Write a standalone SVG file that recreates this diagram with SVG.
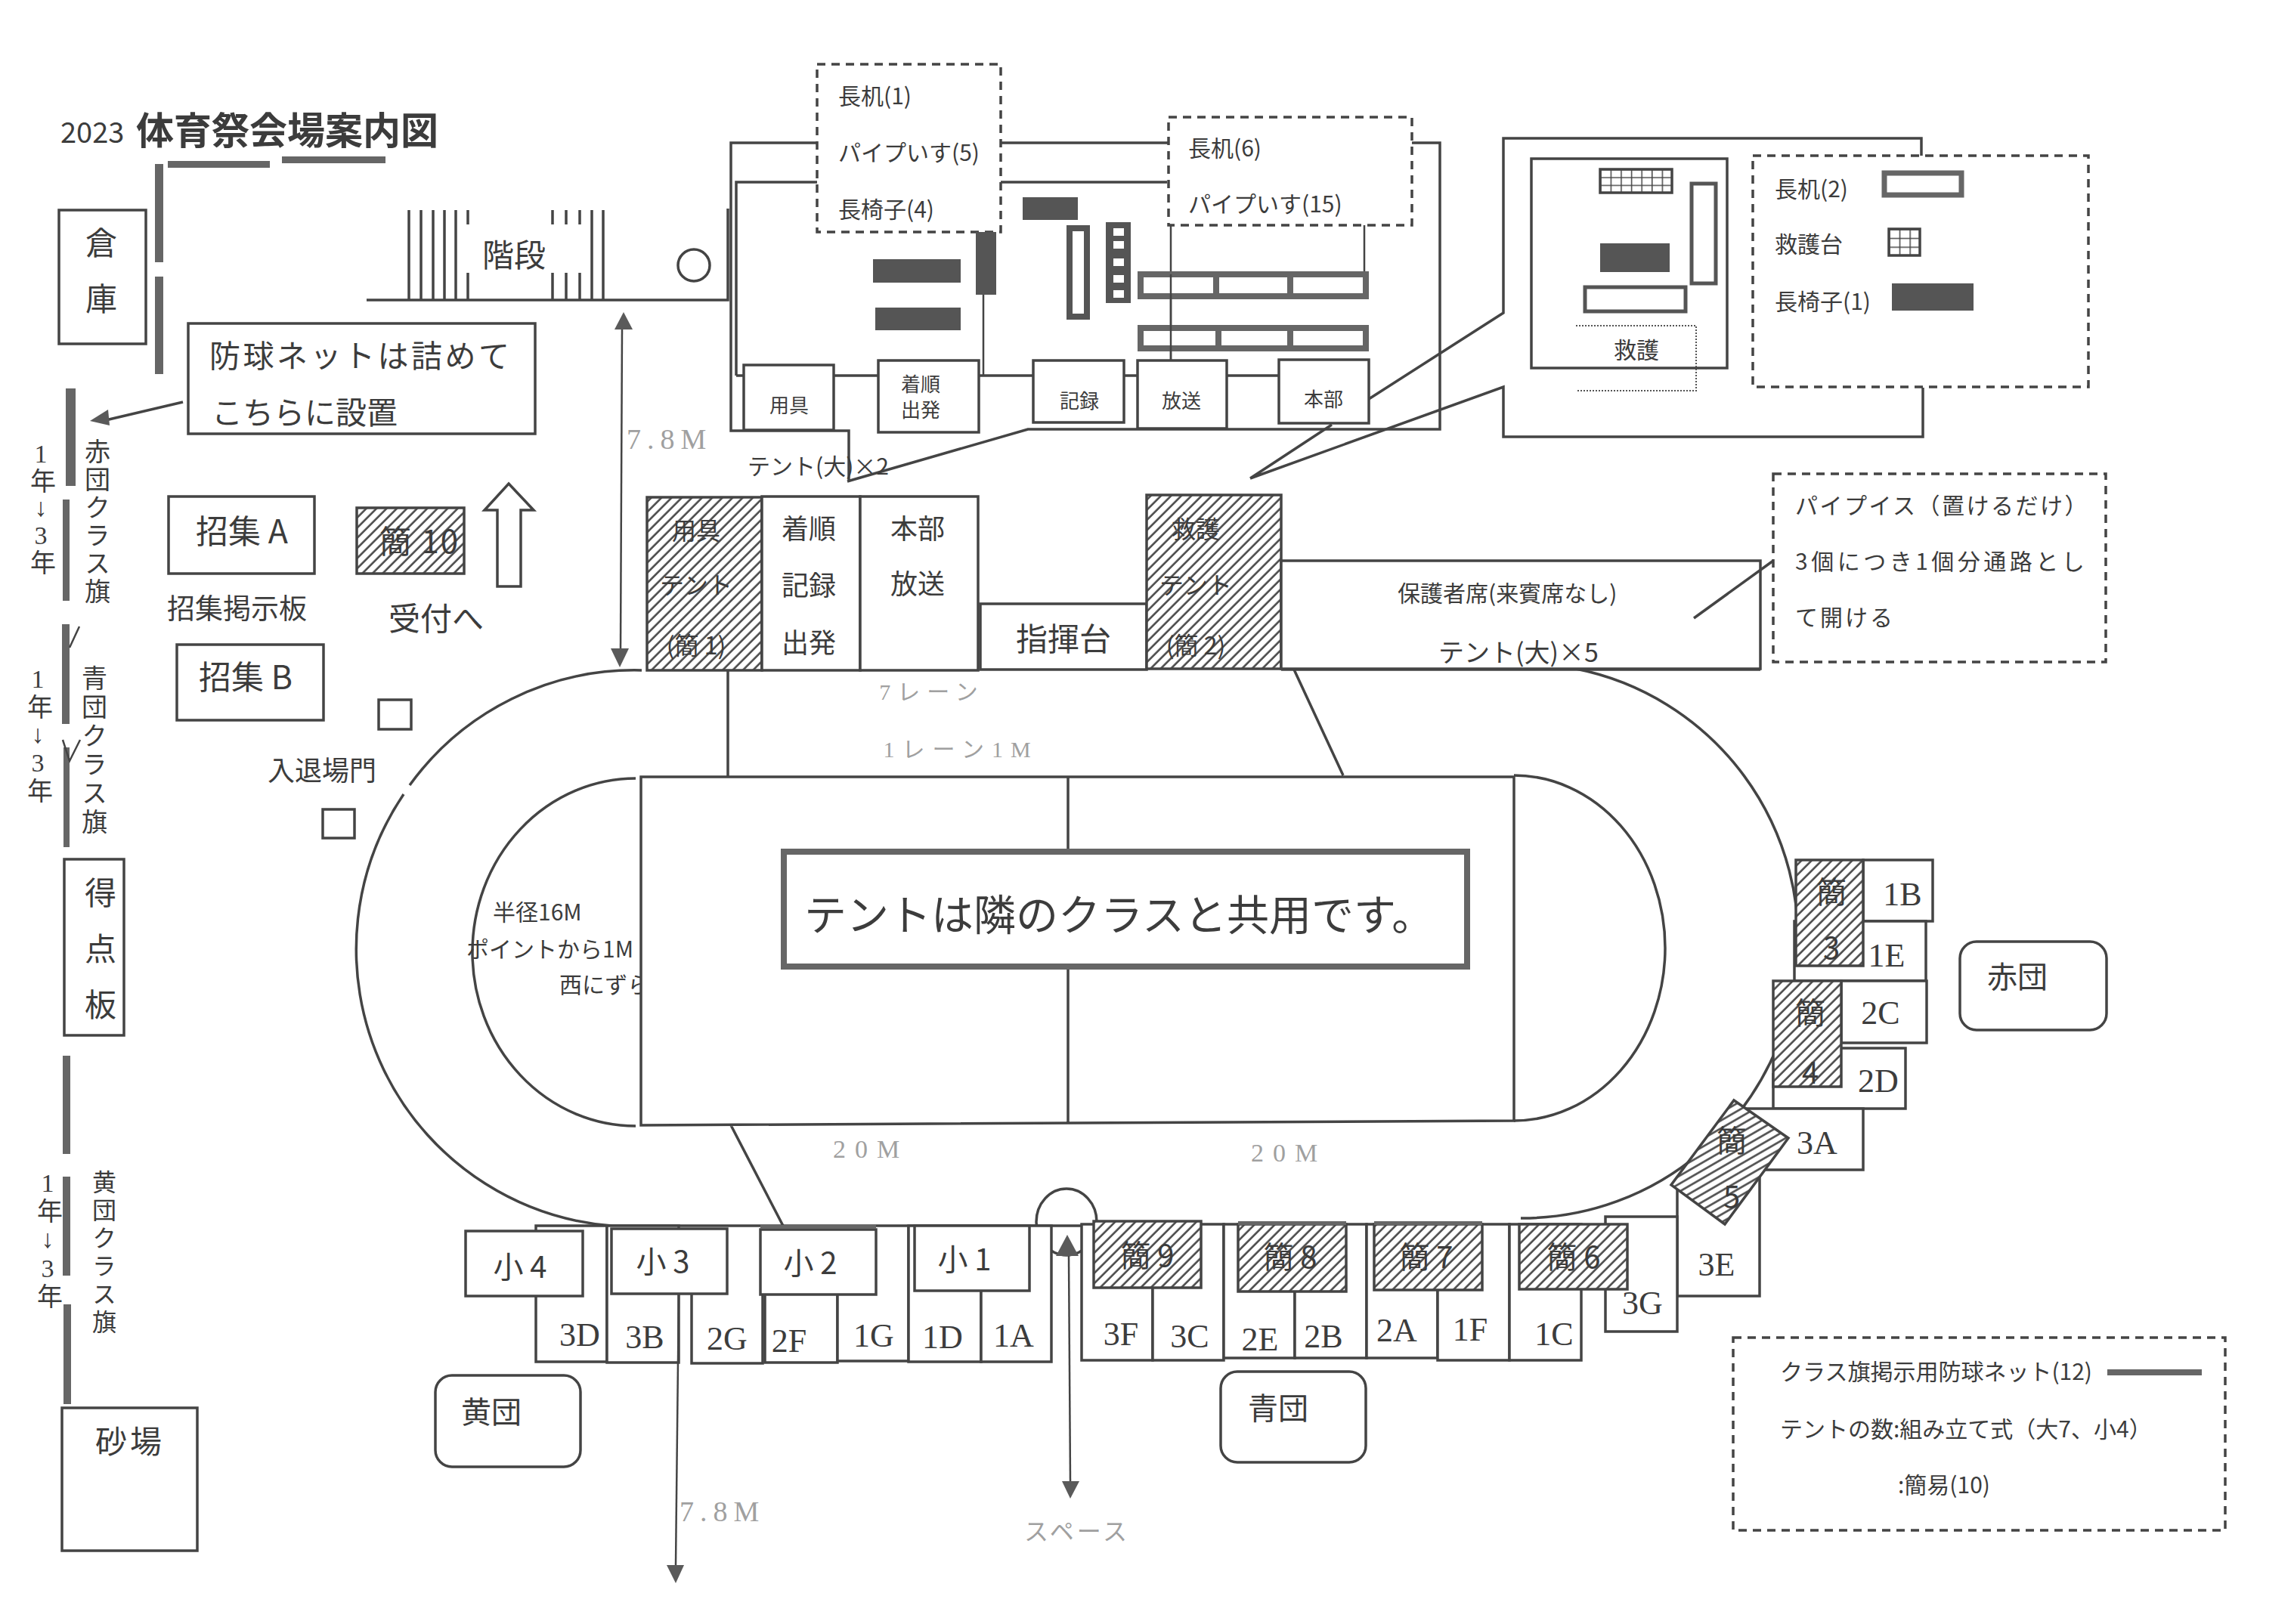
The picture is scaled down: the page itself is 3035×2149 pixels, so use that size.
<svg xmlns="http://www.w3.org/2000/svg" width="3035" height="2149" viewBox="0 0 3035 2149">
<style>
text{font-family:"Noto Sans CJK JP","Noto Sans",sans-serif;fill:#3c3c3c;dominant-baseline:central}
text:not(.lat):not(.v):not(.faint){transform:translateY(-3px)}
.m{text-anchor:middle}
.lat{font-family:"Liberation Serif","Noto Sans CJK JP",serif;fill:#3c3c3c}
.v{writing-mode:vertical-rl;text-orientation:upright}
.faint{font-family:"Liberation Serif","Noto Sans CJK JP",serif;fill:#a0a0a0}
.b{fill:#fff;stroke:#444;stroke-width:3.5}
.n{fill:none;stroke:#444;stroke-width:3.5}
.t{fill:none;stroke:#444;stroke-width:2.5}
.dash{fill:#fff;stroke:#444;stroke-width:3.5;stroke-dasharray:11 8}
.bar{fill:#666}
.dark{fill:#555}
.desk{fill:#fff;stroke:#666;stroke-width:8}
.h{fill:url(#hatch);stroke:#444;stroke-width:3.5}
.r{fill:#fff;stroke:#444;stroke-width:3.5}
.arrow{fill:#5a5a5a}
</style>
<defs>
<pattern id="hatch" width="9.5" height="9.5" patternUnits="userSpaceOnUse" patternTransform="rotate(45)"><rect width="9.5" height="9.5" fill="#fff"/><line x1="1.5" y1="0" x2="1.5" y2="9.5" stroke="#444" stroke-width="2.5"/></pattern>
<pattern id="hatch5" width="9" height="9" patternUnits="userSpaceOnUse" patternTransform="rotate(60)"><rect width="9" height="9" fill="#fff"/><line x1="1.5" y1="0" x2="1.5" y2="9" stroke="#444" stroke-width="2.5"/></pattern>
<pattern id="grid1" x="2117" y="224" width="13.6" height="10.3" patternUnits="userSpaceOnUse"><rect width="13.6" height="10.3" fill="#fff"/><path d="M0,0H13.6M0,0V10.3" stroke="#444" stroke-width="3" fill="none"/></pattern>
<pattern id="grid2" x="2499" y="303" width="13.7" height="11.7" patternUnits="userSpaceOnUse"><rect width="13.7" height="11.7" fill="#fff"/><path d="M0,0H13.7M0,0V11.7" stroke="#444" stroke-width="3" fill="none"/></pattern>
</defs>
<rect width="3035" height="2149" fill="#fff"/>

<g id="title"><text x="80" y="175" font-size="38" font-family="Liberation Sans">2023</text><text x="180" y="172" font-size="50" font-weight="700">体育祭会場案内図</text></g>

<g id="track">
<path class="n" d="M849,887A367,367 0 0 0 542,1039M534,1051A367,367 0 0 0 809,1622"/>
<path class="n" d="M2085,885A365,367 0 0 1 2012,1612"/>
<path class="n" d="M1695,886H2329M809,1622H2125"/>
<path class="n" d="M841,1030A216,230 0 0 0 841,1490"/>
<path class="n" d="M2003,1026A200,228.5 0 0 1 2003,1483"/>
<g><text x="652" y="1208" font-size="30">半径16M</text><text x="617" y="1257" font-size="30">ポイントから1M</text><text x="740" y="1304" font-size="30">西にずらす</text></g>
<rect x="848" y="1028" width="1155" height="455" fill="#fff"/>
<path class="n" d="M848,1028H2003V1483L848,1489ZM1413,1028V1487M963,887V1027M1712,886L1777,1026M967,1489L1036,1622"/>
<text class="faint" x="1233" y="915" font-size="30" text-anchor="middle" letter-spacing="9">7レーン</text>
<text class="faint" x="1271" y="991" font-size="30" text-anchor="middle" letter-spacing="10">1レーン1M</text>
<text class="faint" x="1152" y="1520" font-size="34" text-anchor="middle" letter-spacing="12">20M</text>
<text class="faint" x="1705" y="1525" font-size="34" text-anchor="middle" letter-spacing="12">20M</text>
</g>

<g id="gate-arc"><ellipse class="n" cx="1411" cy="1617" rx="40" ry="44"/></g>

<g id="notice"><rect x="1037" y="1127" width="904" height="152" fill="#fff" stroke="#666" stroke-width="8"/><text x="1064" y="1209" font-size="56">テントは隣のクラスと共用です。</text></g>

<g id="nets">
<rect class="bar" x="222" y="213" width="135" height="9"/><rect class="bar" x="373" y="207" width="137" height="9"/>
<rect class="bar" x="205" y="217" width="11" height="130"/><rect class="bar" x="205" y="366" width="11" height="129"/>
<rect class="bar" x="87" y="514" width="13" height="129"/><rect class="bar" x="83" y="661" width="9" height="134"/>
<rect class="bar" x="82" y="826" width="10" height="132"/><rect class="bar" x="84" y="989" width="8" height="132"/>
<rect class="bar" x="83" y="1397" width="10" height="130"/><rect class="bar" x="83" y="1557" width="10" height="131"/><rect class="bar" x="84" y="1726" width="10" height="132"/>
<path class="t" d="M105,829L92,857M83,979L92,1007L106,979"/>
<text class="v lat" x="54" y="582" font-size="34">1年↓3年</text>
<text class="v" x="129" y="580" font-size="34" letter-spacing="3">赤団クラス旗</text>
<text class="v lat" x="50" y="880" font-size="34" letter-spacing="1">1年↓3年</text>
<text class="v" x="125" y="880" font-size="34" letter-spacing="4">青団クラス旗</text>
<text class="v lat" x="63" y="1547" font-size="34" letter-spacing="1.5">1年↓3年</text>
<text class="v" x="138" y="1548" font-size="32" letter-spacing="5">黄団クラス旗</text>
</g>

<g id="souko"><rect class="b" x="78" y="278" width="115" height="177"/><text class="v" x="134" y="300" font-size="42" letter-spacing="32">倉庫</text></g>
<g id="stairs"><path class="n" d="M485,397H963V276M541,278V397M557,278V397M573,278V397M588,278V397M603,278V397M619,278V297M619,361V397M731,278V297M731,361V397M749,278V297M749,361V397M767,278V297M767,361V397M783,278V397M798,278V397"/><text class="m" x="680" y="337" font-size="42">階段</text><circle class="n" cx="918" cy="351" r="21"/></g>
<g id="net-note"><rect class="b" x="249" y="428" width="459" height="146"/><text x="277" y="471" font-size="41" letter-spacing="3.5">防球ネットは詰めて</text><text x="280" y="546" font-size="41">こちらに設置</text></g>
<g id="shoshu-a"><rect class="b" x="223" y="657" width="193" height="102"/><text class="m" x="320" y="703" font-size="43">招集 A</text></g>
<g id="kan10"><rect class="h" x="472" y="672" width="142" height="87"/><text class="m" x="555" y="716" font-size="42" letter-spacing="2">簡 10</text></g>
<g id="up-arrow"><polygon class="b" points="673,640 706,675 689,675 689,776 658,776 658,675 641,675"/><text class="m" x="577" y="818" font-size="42">受付へ</text></g>
<g id="shoshu-board"><text x="221" y="806" font-size="37">招集掲示板</text></g>
<g id="shoshu-b"><rect class="b" x="234" y="853" width="194" height="100"/><text class="m" x="325" y="896" font-size="43">招集 B</text></g>
<g id="gate"><rect class="b" x="501" y="926" width="43" height="39"/><rect class="b" x="427" y="1071" width="42" height="38"/><text x="354" y="1020" font-size="36">入退場門</text></g>
<g id="score"><rect class="b" x="85" y="1137" width="79" height="233"/><text class="v" x="133" y="1160" font-size="42" letter-spacing="32">得点板</text></g>
<g id="sand"><rect class="b" x="82" y="1863" width="179" height="189"/><text class="m" x="172" y="1907" font-size="42" letter-spacing="4">砂場</text></g>

<g id="building">
<path class="n" d="M1123,637V570H967V189H1905V568H1360L1121,637"/>
<path class="n" d="M974,497V241H1544M974,497H1692"/>
<path class="t" d="M1549,298V477M1805,298V396M1301,390V497"/>
<rect class="dark" x="1353" y="261" width="73" height="30"/>
<rect class="dark" x="1155" y="343" width="116" height="31"/>
<rect class="dark" x="1158" y="407" width="113" height="30"/>
<rect x="1415" y="302" width="23" height="117" fill="#fff" stroke="#555" stroke-width="8"/>
<rect class="dark" x="1463" y="294" width="33" height="107"/>
<g fill="#fff"><rect x="1473" y="302" width="14" height="10"/><rect x="1473" y="319" width="14" height="10"/><rect x="1473" y="342" width="14" height="10"/><rect x="1473" y="364" width="14" height="10"/><rect x="1473" y="384" width="14" height="10"/></g>
<path class="desk" d="M1509,363H1807V392H1509ZM1609,363V392M1707,363V392M1509,434H1807V461H1509ZM1612,434V461M1707,434V461"/>
<path class="t" d="M1549,363V477"/>
</g>
<g id="tent-yougu"><rect class="r" x="984" y="483" width="119" height="86"/><text class="m" x="1044" y="537" font-size="26">用具</text></g>
<g id="tent-chaku"><rect class="r" x="1162" y="477" width="133" height="95"/><text class="m" x="1218" y="509" font-size="26">着順</text><text class="m" x="1218" y="543" font-size="26">出発</text></g>
<g id="tent-kiroku"><rect class="r" x="1367" y="477" width="120" height="82"/><text class="m" x="1428" y="531" font-size="26">記録</text></g>
<g id="tent-housou"><rect class="r" x="1505" y="477" width="118" height="90"/><text class="m" x="1563" y="531" font-size="26">放送</text></g>
<g id="tent-honbu"><rect class="r" x="1692" y="476" width="119" height="84"/><text class="m" x="1751" y="529" font-size="26">本部</text></g>
<g id="tent-label"><text x="989" y="618" font-size="30">テント(大)×2</text></g>

<g id="legend-1"><rect class="dash" x="1081" y="85" width="243" height="222"/><text x="1109" y="128" font-size="30">長机(1)</text><text x="1109" y="203" font-size="30">パイプいす(5)</text><text x="1109" y="278" font-size="30">長椅子(4)</text></g>
<g id="legend-2"><rect class="dash" x="1546" y="155" width="322" height="143"/><text x="1572" y="197" font-size="30">長机(6)</text><text x="1572" y="271" font-size="30">パイプいす(15)</text></g>
<rect class="dark" x="1291" y="307" width="27" height="83"/>

<g id="rescue-detail">
<path class="n" d="M2542,206V183H1989V414L1811,528M1654,633L1989,512V578H2544V513M1654,633L1762,562"/>
<rect class="n" x="2026" y="210" width="259" height="277"/>
<rect x="2117" y="224" width="95" height="31" fill="url(#grid1)" stroke="#444" stroke-width="3.5"/>
<rect x="2238" y="243" width="32" height="132" fill="#fff" stroke="#555" stroke-width="5"/>
<rect class="dark" x="2117" y="322" width="92" height="38"/>
<rect x="2097" y="380" width="133" height="32" fill="#fff" stroke="#555" stroke-width="5"/>
<path d="M2085,431H2244V517H2085" fill="none" stroke="#555" stroke-width="2" stroke-dasharray="2 2"/>
<text class="m" x="2165" y="464" font-size="30">救護</text>
</g>
<g id="legend-3"><rect class="dash" x="2319" y="206" width="444" height="306"/><text x="2348" y="251" font-size="30">長机(2)</text><rect x="2493" y="229" width="102" height="29" fill="#fff" stroke="#666" stroke-width="7"/><text x="2348" y="324" font-size="30">救護台</text><rect x="2499" y="303" width="41" height="35" fill="url(#grid2)" stroke="#444" stroke-width="3.5"/><text x="2348" y="400" font-size="30">長椅子(1)</text><rect class="dark" x="2503" y="375" width="108" height="36"/></g>

<g id="row-top">
<g id="yougu-tent"><rect class="h" x="856" y="658" width="152" height="229"/><text class="m" x="921" y="703" font-size="32">用具</text><text class="m" x="921" y="775" font-size="32">テント</text><text class="m" x="921" y="855" font-size="32">(簡 1)</text></g>
<g id="chaku-box"><rect class="b" x="1008" y="657" width="130" height="230"/><text class="m" x="1070" y="700" font-size="36">着順</text><text class="m" x="1070" y="775" font-size="36">記録</text><text class="m" x="1070" y="851" font-size="36">出発</text></g>
<g id="honbu-box"><rect class="b" x="1138" y="657" width="156" height="230"/><text class="m" x="1214" y="700" font-size="36">本部</text><text class="m" x="1214" y="773" font-size="36">放送</text></g>
<g id="shiki"><rect class="b" x="1297" y="799" width="220" height="87"/><text class="m" x="1407" y="845" font-size="42">指揮台</text></g>
<g id="kyugo-tent"><rect class="h" x="1517" y="655" width="178" height="230"/><text class="m" x="1582" y="701" font-size="32">救護</text><text class="m" x="1582" y="775" font-size="32">テント</text><text class="m" x="1582" y="855" font-size="32">(簡 2)</text></g>
<g id="hogosha"><rect class="b" x="1695" y="742" width="634" height="143"/><text x="1849" y="786" font-size="30">保護者席(来賓席なし)</text><text x="1903" y="864" font-size="34">テント(大)×5</text></g>
</g>

<g id="pipe-note"><rect class="dash" x="2346" y="627" width="440" height="249"/><text x="2375" y="670" font-size="30" letter-spacing="2.5">パイプイス（置けるだけ）</text><text x="2375" y="744" font-size="30" letter-spacing="4.5">3個につき1個分通路とし</text><text x="2375" y="818" font-size="30" letter-spacing="3">て開ける</text></g>

<g id="class-right">
<g id="c1B"><rect class="r" x="2465" y="1138" width="92" height="81"/><text class="m lat" x="2517" y="1183" font-size="44">1B</text></g>
<g id="c1E"><path class="r" d="M2374,1219H2548V1298H2374Z"/><text class="m lat" x="2496" y="1264" font-size="44">1E</text></g>
<g id="k3"><rect class="h" x="2376" y="1138" width="89" height="140"/><text class="v" x="2423" y="1160" font-size="40" letter-spacing="34">簡3</text></g>
<g id="c2C"><rect class="r" x="2436" y="1298" width="113" height="82"/><text class="m lat" x="2488" y="1340" font-size="44">2C</text></g>
<g id="c2D"><path class="r" d="M2436,1387H2521V1467H2346V1420"/><text class="m lat" x="2485" y="1430" font-size="44">2D</text></g>
<g id="k4"><rect class="h" x="2346" y="1298" width="90" height="140"/><text class="v" x="2395" y="1320" font-size="40" letter-spacing="39">簡4</text></g>
<g id="c3A"><path class="r" d="M2310,1467H2465V1548H2330"/><text class="m lat" x="2404" y="1512" font-size="44">3A</text></g>
<g id="c3E"><path class="r" d="M2328,1510V1715H2219V1560"/><text class="m lat" x="2271" y="1673" font-size="44">3E</text></g>
<g id="c3G"><path class="r" d="M2124,1610H2219V1762H2124Z"/><text class="m lat" x="2173" y="1724" font-size="44">3G</text></g>
<g id="k5"><polygon points="2294,1456 2366,1506 2282,1620 2211,1568" fill="url(#hatch5)" stroke="#444" stroke-width="3.5"/><text class="v" x="2291" y="1489" font-size="40" letter-spacing="34">簡5</text></g>
</g>
<g id="aka"><rect class="b" x="2593" y="1246" width="194" height="117" rx="22"/><text class="m" x="2669" y="1293" font-size="40">赤団</text></g>

<g id="class-bottom">
<g id="c3D"><rect class="r" x="709" y="1622" width="94" height="180"/><text class="m lat" x="767" y="1766" font-size="44">3D</text></g>
<g id="c3B"><rect class="r" x="803" y="1622" width="95" height="181"/><text class="m lat" x="853" y="1769" font-size="44">3B</text></g>
<g id="c2G"><path class="r" d="M915,1712V1804H1009V1624"/><text class="m lat" x="962" y="1771" font-size="44">2G</text></g>
<g id="c2F"><rect class="r" x="1012" y="1700" width="96" height="103"/><text class="m lat" x="1044" y="1774" font-size="44">2F</text></g>
<g id="c1G"><path class="r" d="M1108,1700V1801H1202V1622"/><text class="m lat" x="1156" y="1767" font-size="44">1G</text></g>
<g id="c1D"><rect class="r" x="1202" y="1622" width="96" height="180"/><text class="m lat" x="1247" y="1769" font-size="44">1D</text></g>
<g id="c1A"><rect class="r" x="1298" y="1622" width="93" height="180"/><text class="m lat" x="1341" y="1767" font-size="44">1A</text></g>
<g id="c3F"><rect class="r" x="1431" y="1620" width="94" height="180"/><text class="m lat" x="1483" y="1765" font-size="44">3F</text></g>
<g id="c3C"><rect class="r" x="1525" y="1620" width="94" height="180"/><text class="m lat" x="1574" y="1768" font-size="44">3C</text></g>
<g id="c2E"><rect class="r" x="1619" y="1620" width="94" height="177"/><text class="m lat" x="1667" y="1772" font-size="44">2E</text></g>
<g id="c2B"><rect class="r" x="1713" y="1620" width="95" height="177"/><text class="m lat" x="1751" y="1768" font-size="44">2B</text></g>
<g id="c2A"><rect class="r" x="1808" y="1620" width="94" height="177"/><text class="m lat" x="1848" y="1760" font-size="44">2A</text></g>
<g id="c1F"><rect class="r" x="1902" y="1620" width="95" height="180"/><text class="m lat" x="1945" y="1759" font-size="44">1F</text></g>
<g id="c1C"><rect class="r" x="1997" y="1620" width="95" height="180"/><text class="m lat" x="2056" y="1765" font-size="44">1C</text></g>
<g id="s4"><rect class="b" x="616" y="1629" width="155" height="86"/><text class="m" x="688" y="1677" font-size="40">小 4</text></g>
<g id="s3"><rect class="b" x="809" y="1626" width="153" height="86"/><text class="m" x="877" y="1670" font-size="40">小 3</text></g>
<g id="s2"><rect class="b" x="1006" y="1627" width="153" height="86"/><text class="m" x="1072" y="1672" font-size="40">小 2</text></g>
<g id="s1"><rect class="b" x="1210" y="1622" width="152" height="86"/><text class="m" x="1276" y="1667" font-size="40">小 1</text></g>
<g id="k9"><rect class="h" x="1447" y="1616" width="142" height="88"/><text class="m" x="1518" y="1662" font-size="40">簡 9</text></g>
<g id="k8"><rect class="h" x="1638" y="1620" width="143" height="89"/><text class="m" x="1707" y="1664" font-size="40">簡 8</text></g>
<g id="k7"><rect class="h" x="1818" y="1620" width="143" height="87"/><text class="m" x="1887" y="1664" font-size="40">簡 7</text></g>
<g id="k6"><rect class="h" x="2010" y="1620" width="143" height="86"/><text class="m" x="2082" y="1664" font-size="40">簡 6</text></g>
<rect class="bar" x="1006" y="1621" width="153" height="5"/><rect class="bar" x="1638" y="1616" width="143" height="5"/><rect class="bar" x="1818" y="1616" width="143" height="5"/>
</g>
<g id="kiiro"><rect class="b" x="576" y="1820" width="192" height="121" rx="22"/><text class="m" x="650" y="1869" font-size="40">黄団</text></g>
<g id="ao"><rect class="b" x="1615" y="1815" width="192" height="120" rx="22"/><text class="m" x="1691" y="1864" font-size="40">青団</text></g>

<g id="legend-4"><rect class="dash" x="2293" y="1770" width="651" height="255"/><text x="2355" y="1816" font-size="30">クラス旗掲示用防球ネット(12)</text><rect class="bar" x="2788" y="1812" width="125" height="8"/><text x="2355" y="1892" font-size="30">テントの数:組み立て式（大7、小4）</text><text x="2511" y="1966" font-size="30">:簡易(10)</text></g>

<g id="connectors">
<path class="t" d="M823,436L821,858"/><polygon class="arrow" points="825,413 837,436 813,436"/><polygon class="arrow" points="820,883 808,858 832,858"/>
<path class="n" d="M242,532L140,556"/><polygon class="arrow" points="119,557 143,542 145,563"/>
<path class="t" d="M898,1712L894,2071"/><polygon class="arrow" points="894,2095 882,2071 905,2071"/>
<path class="t" d="M1414,1662L1416,1960"/><polygon class="arrow" points="1412,1634 1427,1662 1397,1662"/><polygon class="arrow" points="1416,1983 1405,1960 1428,1960"/>
<path class="n" d="M2346,742L2241,818"/>
</g>
<text class="faint" x="829" y="581" font-size="38" letter-spacing="8">7.8M</text>
<text class="faint" x="899" y="2000" font-size="38" letter-spacing="8">7.8M</text>
<text class="faint m" x="1425" y="2027" font-size="32" letter-spacing="4" text-anchor="middle">スペース</text>
</svg>
